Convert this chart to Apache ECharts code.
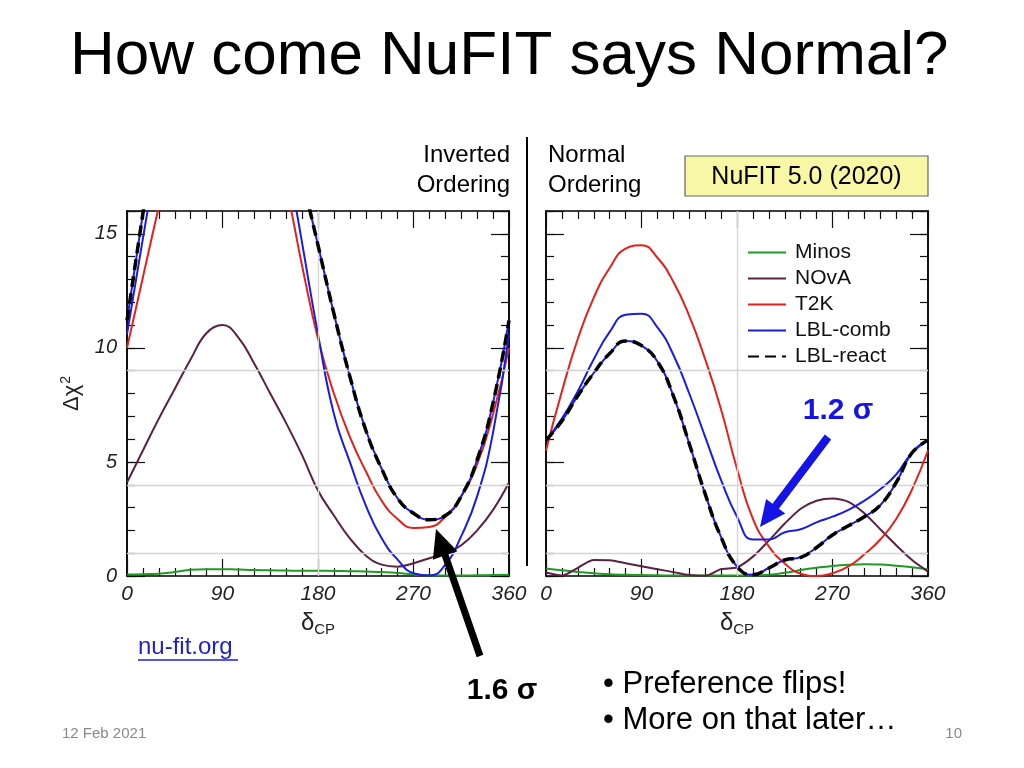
<!DOCTYPE html>
<html>
<head>
<meta charset="utf-8">
<script src="https://cdn.jsdelivr.net/npm/echarts@6/dist/echarts.min.js"></script>
<style>
  html, body { margin: 0; padding: 0; background: #fff; }
  #chart { width: 1024px; height: 768px; }
</style>
</head>
<body>
<div id="chart"></div>
<script>
// ---------- data (delta_CP grid in degrees) ----------
const deltaCP = [0,15,30,45,60,75,90,105,120,135,150,165,180,195,210,225,240,255,270,285,300,315,330,345,360];
const xTickLabels = ['0','90','180','270','360'];
const yTickLabels = ['0','5','10','15'];
const seriesNames = ['Minos','NOvA','T2K','LBL-comb','LBL-react'];

// Inverted Ordering
const minosIO    = [0.07,0.08,0.1,0.18,0.27,0.3,0.3,0.28,0.26,0.25,0.24,0.23,0.23,0.22,0.21,0.2,0.17,0.13,0.07,0.03,0.02,0.02,0.03,0.04,0.05];
const novaIO     = [4.1,5.5,6.9,8.2,9.5,10.65,11.0,10.45,9.3,8.0,6.7,5.3,3.75,2.65,1.65,0.9,0.5,0.41,0.56,0.78,0.97,1.35,2.0,2.9,4.1];
const t2kIO      = [10.0,13.1,16.2,19.2,21.5,23.0,23.5,23.0,21.5,19.4,17.0,13.6,10.4,8.0,6.1,4.6,3.3,2.5,2.1,2.15,2.6,3.5,4.9,7.1,10.0];
const lblCombIO  = [10.6,14.8,18.8,22.5,25.5,27.3,28.0,27.3,25.5,22.5,18.6,14.6,10.6,7.1,5.0,3.1,1.65,0.72,0.12,0.02,0.5,1.75,3.5,6.3,10.6];
const lblReactIO = [11.2,15.9,20.5,24.5,27.5,29.5,30.0,29.5,27.5,24.5,20.5,17.5,14.5,11.5,8.75,6.4,4.7,3.4,2.75,2.47,2.65,3.5,5.1,7.6,11.2];

// Normal Ordering
const minosNO    = [0.33,0.25,0.18,0.12,0.08,0.05,0.04,0.03,0.02,0.02,0.02,0.02,0.02,0.02,0.05,0.14,0.26,0.36,0.44,0.49,0.51,0.5,0.45,0.38,0.3];
const novaNO     = [0.15,0.02,0.36,0.7,0.69,0.56,0.43,0.3,0.17,0.04,0.01,0.3,0.38,0.85,1.55,2.3,2.95,3.3,3.4,3.25,2.75,2.05,1.35,0.7,0.19];
const t2kNO      = [5.5,8.1,10.4,12.2,13.5,14.35,14.5,13.95,12.9,11.4,9.5,7.3,4.7,2.5,1.3,0.55,0.1,0.0,0.12,0.42,0.95,1.6,2.5,3.8,5.5];
const lblCombNO  = [5.95,6.9,8.1,9.5,10.7,11.45,11.5,10.9,9.7,8.0,6.1,4.2,2.6,1.6,1.6,1.92,2.05,2.35,2.6,2.9,3.3,3.8,4.45,5.4,5.95];
const lblReactNO = [5.95,6.8,7.9,8.9,9.75,10.3,10.1,9.4,7.9,5.8,3.6,1.7,0.42,0.05,0.35,0.7,0.82,1.25,1.8,2.2,2.6,3.1,4.1,5.4,5.95];

// sigma reference levels (Delta chi^2 = 1, 4, 9) and vertical guide
const sigmaLevels = [1, 4, 9];
const guideX = [180];

// ---------- styling ----------
const FONT = 'Liberation Sans';
const colors = { 'Minos':'#1f9a22', 'NOvA':'#5a2142', 'T2K':'#e3201b', 'LBL-comb':'#1c1ce0', 'LBL-react':'#000000' };
const grids = [
  { left: 127, top: 211, width: 382, height: 365 },
  { left: 546, top: 211, width: 382, height: 365 }
];

function pairs(ys) { return deltaCP.map((x, i) => [x, ys[i]]); }

const chart = echarts.init(document.getElementById('chart'), null, { renderer: 'canvas' });

const xAxes = [], yAxes = [], series = [];
const tickColor = '#111';

grids.forEach((g, gi) => {
  ['bottom','top'].forEach(pos => {
    xAxes.push({
      gridIndex: gi, type: 'value', position: pos, min: 0, max: 360, interval: 90,
      axisLine: { show: true, onZero: false, lineStyle: { color: '#000', width: 1.5 } },
      axisTick: { show: true, inside: true, length: 17, lineStyle: { color: tickColor, width: 1.2 } },
      minorTick: { show: true, splitNumber: 6, length: 8, lineStyle: { color: tickColor, width: 1.2 } },
      splitLine: { show: false },
      axisLabel: pos === 'bottom' ? {
        show: true, margin: 8, fontSize: 21, fontStyle: 'italic', fontFamily: FONT, color: '#222',
        formatter: v => { const i = [0,90,180,270,360].indexOf(v); return i >= 0 ? xTickLabels[i] : ''; }
      } : { show: false },
      name: pos === 'bottom' ? '{d|δ}{s|CP}' : '',
      nameLocation: 'middle', nameGap: 34,
      nameTextStyle: { rich: {
        d: { fontSize: 24, fontFamily: FONT, color: '#222' },
        s: { fontSize: 15, fontFamily: FONT, color: '#222', padding: [12, 0, 0, 0] }
      } }
    });
  });
  [['left', 1, 8], ['left', 5, 18], ['right', 1, 8], ['right', 5, 18]].forEach(([pos, iv, len], k) => {
    const withLabels = (gi === 0 && k === 0);
    yAxes.push({
      gridIndex: gi, type: 'value', position: pos, min: 0, max: 16, interval: iv,
      axisLine: { show: true, onZero: false, lineStyle: { color: '#000', width: 1.5 } },
      axisTick: { show: true, inside: true, length: len, lineStyle: { color: tickColor, width: 1.2 } },
      splitLine: { show: false },
      axisLabel: withLabels ? {
        show: true, margin: 10, fontSize: 20, fontStyle: 'italic', fontFamily: FONT, color: '#222',
        formatter: v => { const i = [0,5,10,15].indexOf(v); return i >= 0 ? yTickLabels[i] : ''; }
      } : { show: false },
      name: withLabels ? '{a|Δχ}{b|2}' : '',
      nameLocation: 'middle', nameRotate: 90, nameGap: 42,
      nameTextStyle: { rich: {
        a: { fontSize: 22, fontFamily: FONT, color: '#222' },
        b: { fontSize: 14, fontFamily: FONT, color: '#222', padding: [0, 0, 12, 1] }
      } }
    });
  });
});

function addPanel(gi, data) {
  const xi = gi * 2, yi = gi * 4;
  const base = { type: 'line', xAxisIndex: xi, yAxisIndex: yi, symbol: 'none', showSymbol: false,
                 smooth: 0.5, clip: true, silent: true, animation: false };
  series.push(Object.assign({}, base, {
    name: 'Minos', data: pairs(data.minos), z: 1,
    lineStyle: { color: colors['Minos'], width: 2 }, itemStyle: { color: colors['Minos'] },
    markLine: {
      silent: true, symbol: ['none','none'], label: { show: false },
      lineStyle: { color: '#d4d4d4', width: 1.3, type: 'solid' },
      data: sigmaLevels.map(v => ({ yAxis: v })).concat(guideX.map(v => ({ xAxis: v })))
    }
  }));
  series.push(Object.assign({}, base, {
    name: 'NOvA', data: pairs(data.nova), z: 3, smooth: data.novaSmooth,
    lineStyle: { color: colors['NOvA'], width: 2 }, itemStyle: { color: colors['NOvA'] }
  }));
  series.push(Object.assign({}, base, {
    name: 'T2K', data: pairs(data.t2k), z: 3,
    lineStyle: { color: colors['T2K'], width: 2 }, itemStyle: { color: colors['T2K'] }
  }));
  series.push(Object.assign({}, base, {
    name: 'LBL-comb', data: pairs(data.comb), z: 3,
    lineStyle: { color: colors['LBL-comb'], width: 2 }, itemStyle: { color: colors['LBL-comb'] }
  }));
  series.push(Object.assign({}, base, {
    name: 'LBL-react core', data: pairs(data.react), z: 4,
    lineStyle: { color: colors['LBL-comb'], width: 2 }, itemStyle: { color: colors['LBL-comb'] }
  }));
  series.push(Object.assign({}, base, {
    name: 'LBL-react', data: pairs(data.react), z: 5,
    lineStyle: { color: '#000', width: 3.5, type: [11, 6] }, itemStyle: { color: '#000' }
  }));
}
addPanel(0, { minos: minosIO, nova: novaIO, t2k: t2kIO, comb: lblCombIO, react: lblReactIO, novaSmooth: 0.45 });
addPanel(1, { minos: minosNO, nova: novaNO, t2k: t2kNO, comb: lblCombNO, react: lblReactNO, novaSmooth: 0.25 });

// ---------- annotation helpers ----------
function arrowPoints(x0, y0, x1, y1, shaftW, headL, headW) {
  const dx = x1 - x0, dy = y1 - y0, L = Math.hypot(dx, dy);
  const ux = dx / L, uy = dy / L, nx = -uy, ny = ux;
  const bx = x1 - ux * headL, by = y1 - uy * headL;
  const s = shaftW / 2, h = headW / 2;
  return [
    [x0 + nx * s, y0 + ny * s], [bx + nx * s, by + ny * s], [bx + nx * h, by + ny * h],
    [x1, y1],
    [bx - nx * h, by - ny * h], [bx - nx * s, by - ny * s], [x0 - nx * s, y0 - ny * s]
  ];
}
function txt(x, y, text, size, opts) {
  opts = opts || {};
  return {
    type: 'text', x: x, y: y, z: 100,
    style: {
      text: text, fontSize: size, fontFamily: FONT, fontWeight: opts.bold ? 'bold' : 'normal',
      fill: opts.color || '#000', align: opts.align || 'left', verticalAlign: 'middle'
    }
  };
}

const graphics = [
  txt(70, 57, 'How come NuFIT says Normal?', 62),
  txt(510, 155, 'Inverted', 24, { align: 'right' }),
  txt(510, 185, 'Ordering', 24, { align: 'right' }),
  txt(548, 155, 'Normal', 24),
  txt(548, 185, 'Ordering', 24),
  { type: 'line', z: 100, shape: { x1: 527, y1: 137, x2: 527, y2: 566 }, style: { stroke: '#000', lineWidth: 2 } },
  { type: 'rect', z: 99, shape: { x: 685, y: 156, width: 243, height: 40 }, style: { fill: '#f8f7a6', stroke: '#666', lineWidth: 1.2 } },
  txt(806.5, 177, 'NuFIT 5.0 (2020)', 25, { align: 'center' }),
  txt(838, 411, '1.2 σ', 30, { bold: true, color: '#1414e6', align: 'center' }),
  { type: 'polygon', z: 100, shape: { points: arrowPoints(828, 437, 760, 527, 8, 26, 24) }, style: { fill: '#1414e6' } },
  { type: 'polygon', z: 100, shape: { points: arrowPoints(480, 656, 436, 529, 7, 28, 26) }, style: { fill: '#000' } },
  txt(502, 691, '1.6 σ', 30, { bold: true, align: 'center' }),
  txt(138, 647, 'nu-fit.org', 24, { color: '#1f1fcc' }),
  { type: 'line', z: 100, shape: { x1: 138, y1: 660, x2: 238, y2: 660 }, style: { stroke: '#1f1fcc', lineWidth: 1.5 } },
  txt(603, 684, '• Preference flips!', 31),
  txt(603, 720, '• More on that later…', 31),
  txt(62, 734, '12 Feb 2021', 15, { color: '#8a8a8a' }),
  txt(962, 734, '10', 15, { color: '#8a8a8a', align: 'right' })
];

chart.setOption({
  animation: false,
  backgroundColor: '#ffffff',
  grid: grids,
  xAxis: xAxes,
  yAxis: yAxes,
  legend: {
    show: true, orient: 'vertical', left: 747, top: 242, padding: 0,
    itemWidth: 38, itemHeight: 14, itemGap: 5, selectedMode: false,
    itemStyle: { opacity: 0 },
    data: seriesNames,
    textStyle: { fontSize: 21, fontFamily: FONT, color: '#111', padding: [0, 0, 0, 4] }
  },
  series: series,
  graphic: graphics
});
</script>
</body>
</html>
